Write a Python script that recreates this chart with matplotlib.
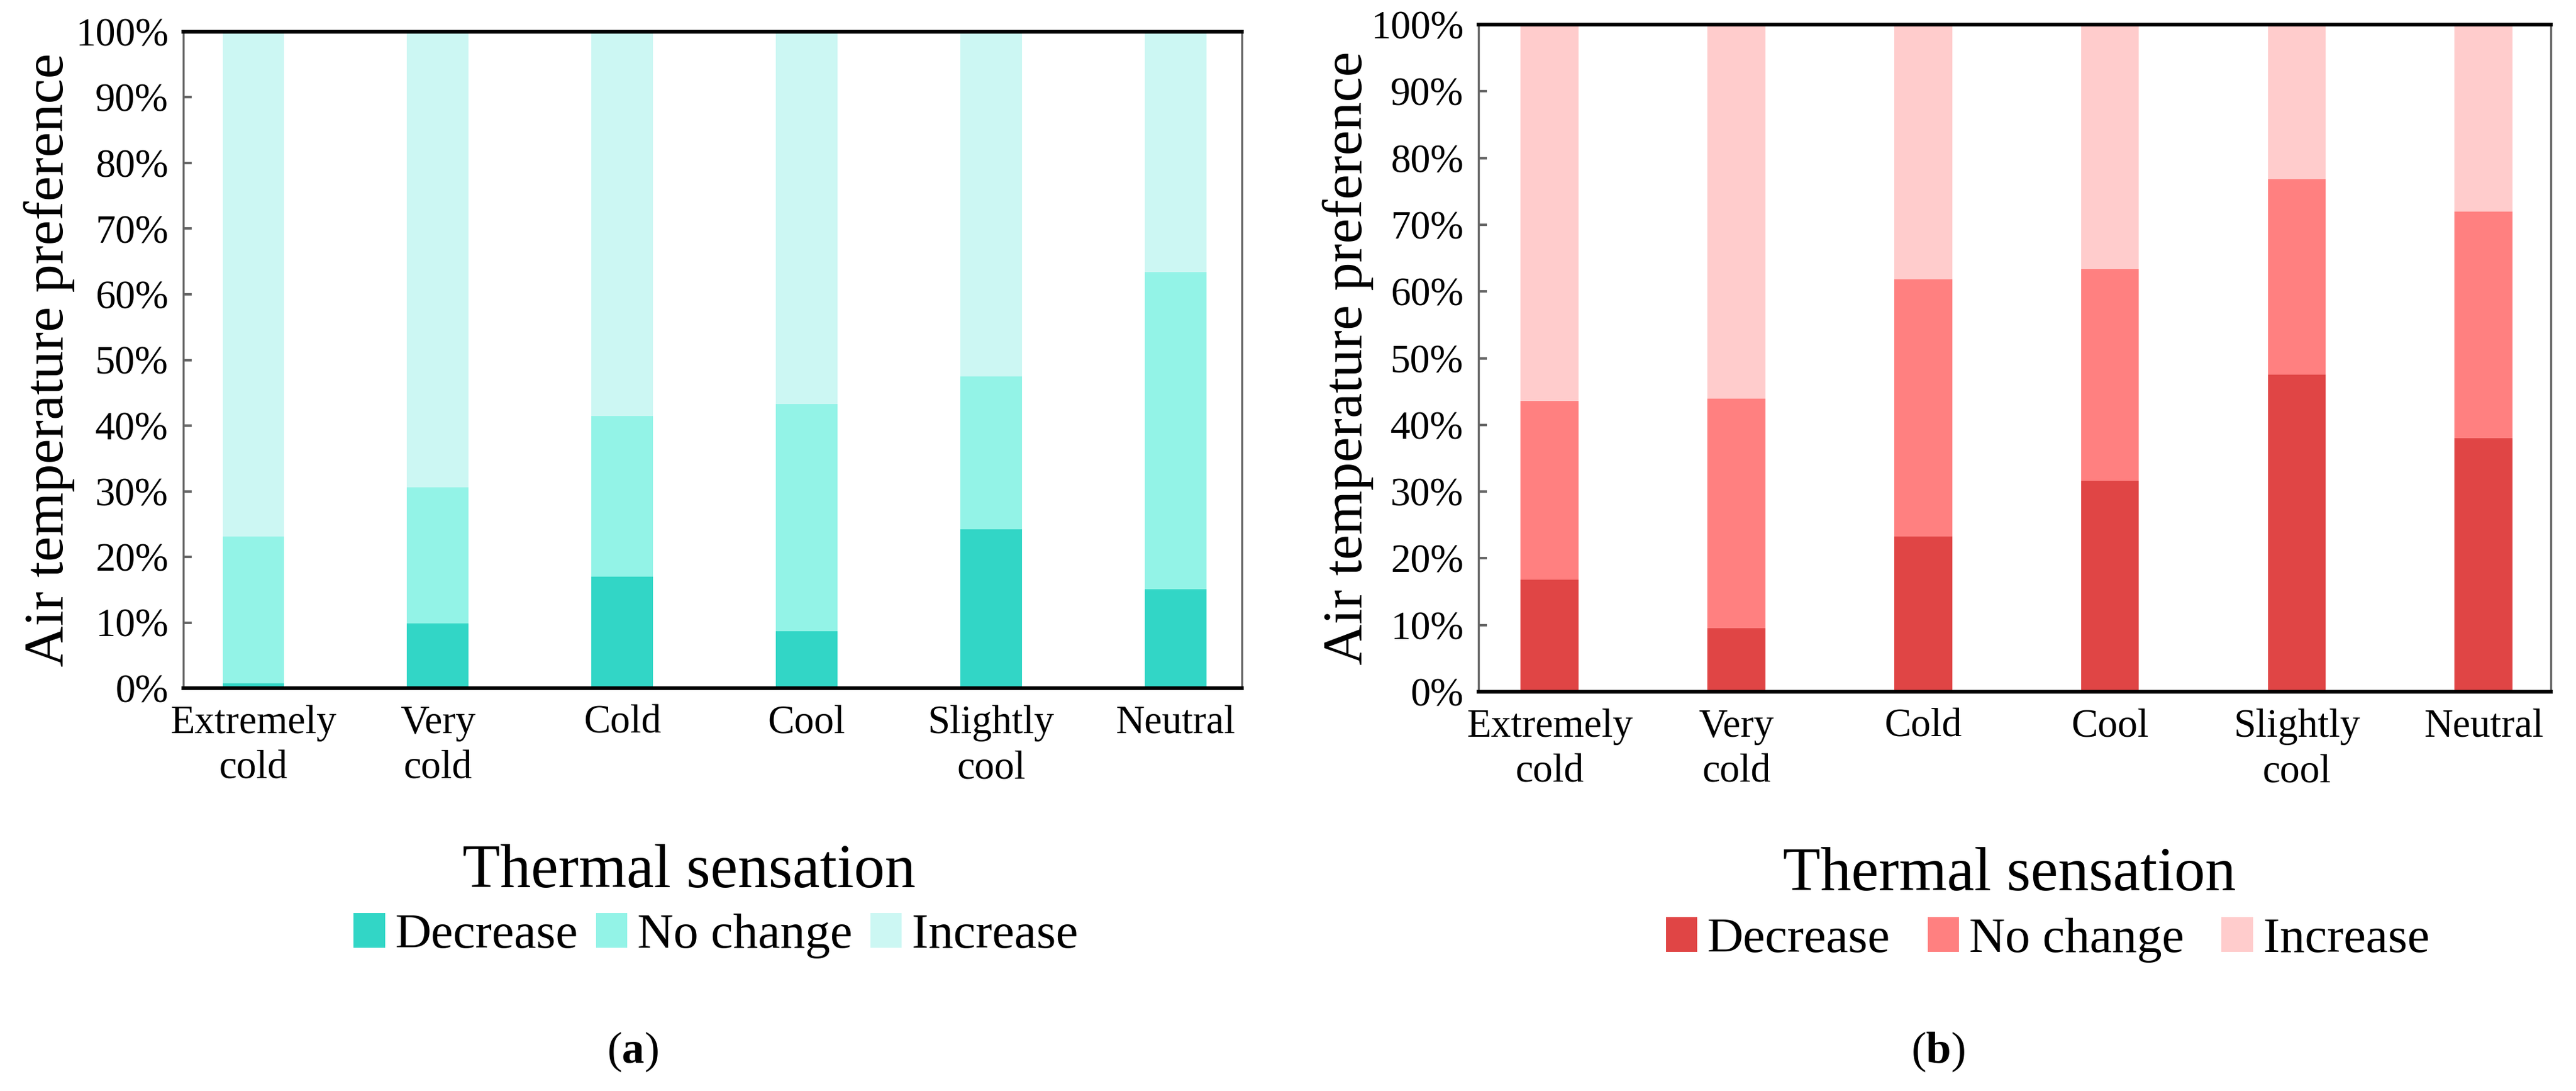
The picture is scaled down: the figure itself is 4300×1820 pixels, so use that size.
import matplotlib
matplotlib.use("Agg")
import matplotlib.pyplot as plt
import numpy as np

plt.rcParams['font.family'] = ['Liberation Serif', 'DejaVu Serif']
plt.rcParams['mathtext.fontset'] = 'custom'
plt.rcParams['mathtext.rm'] = 'Liberation Serif'
plt.rcParams['mathtext.bf'] = 'Liberation Serif:bold'

# data (percent)
categories = ["Extremely\ncold", "Very\ncold", "Cold", "Cool", "Slightly\ncool", "Neutral"]
series = ["Decrease", "No change", "Increase"]

a_decrease = [0.7, 9.9, 17.0, 8.7, 24.2, 15.1]
a_nochange = [22.4, 20.7, 24.5, 34.6, 23.3, 48.3]
a_increase = [76.9, 69.4, 58.5, 56.7, 52.5, 36.6]

b_decrease = [16.8, 9.5, 23.3, 31.6, 47.5, 38.0]
b_nochange = [26.8, 34.4, 38.5, 31.7, 29.3, 34.0]
b_increase = [56.4, 56.1, 38.2, 36.7, 23.2, 28.0]

a_colors = ["#32D6C6", "#93F3E7", "#CCF7F3"]
b_colors = ["#E04545", "#FF8080", "#FFCCCC"]

W, H = 4300, 1820
fig = plt.figure(figsize=(W / 100, H / 100), dpi=100)


def panel(rect, data, colors, width, ylab_x, xlab_xy, leg_xy, colsp, tag, tag_x):
    ax = fig.add_axes(rect)
    x = np.arange(len(categories))
    bottom = np.zeros(len(categories))
    handles = []
    for vals, col, name in zip(data, colors, series):
        b = ax.bar(x, vals, width, bottom=bottom, color=col, edgecolor='none', label=name)
        handles.append(b)
        bottom = bottom + np.array(vals)
    ax.set_xlim(-0.38, 5.36)
    ax.set_ylim(0, 100)
    ax.set_yticks(np.arange(0, 101, 10))
    ax.set_yticklabels(["%d%%" % v for v in range(0, 101, 10)])
    ax.set_xticks(x)
    ax.set_xticklabels(categories, linespacing=1.32)
    ax.tick_params(axis='y', direction='in', length=10, width=3, color='#666666',
                   labelsize=48, pad=18)
    ax.tick_params(axis='x', length=0, labelsize=48, pad=20)
    for s in ['top', 'bottom']:
        ax.spines[s].set_color('black')
        ax.spines[s].set_linewidth(4.5)
    for s in ['left', 'right']:
        ax.spines[s].set_color('#666666')
        ax.spines[s].set_linewidth(2.5)
    cy = rect[1] + rect[3] / 2
    fig.text(ylab_x / W, cy, "Air temperature preference", rotation=90,
             ha='center', va='center', fontsize=68)
    fig.text(xlab_xy[0] / W, 1 - xlab_xy[1] / H, "Thermal sensation",
             ha='center', va='center', fontsize=74)
    fig.legend(handles=handles, labels=series, loc='center',
               bbox_to_anchor=(leg_xy[0] / W, 1 - leg_xy[1] / H), ncol=3,
               frameon=False, prop={'family': 'Liberation Serif', 'size': 60},
               handlelength=0.63, handleheight=0.7,
               handletextpad=0.2, columnspacing=colsp)
    fig.text(tag_x / W, 1 - 1755 / H, "(" + r"$\mathbf{%s}$" % tag + ")",
             ha='center', va='center', fontsize=54)
    return ax


panel([306 / W, 1 - 1148 / H, (2073 - 306) / W, (1148 - 53) / H],
      [a_decrease, a_nochange, a_increase], a_colors, 0.334,
      82, (1150, 1455), (1195, 1561), 0.36, "a", 1056)
panel([2468 / W, 1 - 1154 / H, (4258 - 2468) / W, (1154 - 41) / H],
      [b_decrease, b_nochange, b_increase], b_colors, 0.31,
      2250, (3354, 1460), (3418, 1568), 0.75, "b", 3235)

fig.savefig("out.png", dpi=100)
